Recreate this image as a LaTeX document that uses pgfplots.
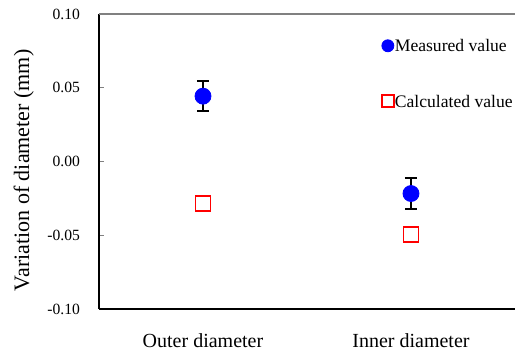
\documentclass[border=0pt]{standalone}
\usepackage{fontspec}
\setmainfont{Liberation Serif}
\usepackage{pgfplots}
\pgfplotsset{compat=1.18}
\definecolor{mblue}{RGB}{0,0,255}
\definecolor{cred}{RGB}{255,0,0}
\begin{document}
\begin{tikzpicture}
\path[use as bounding box] (-49.5pt,-22.5pt) rectangle (208pt,154.5pt);
\begin{axis}[
  at={(0,0)}, anchor=south west,
  scale only axis, width=208pt, height=147.5pt,
  xmin=0, xmax=2, ymin=-0.1, ymax=0.1,
  axis lines=left,
  x axis line style={-, line width=1pt, black},
  y axis line style={-, line width=1pt, black},
  tick align=inside,
  major tick length=2.5pt,
  tick style={gray, line width=0.6pt},
  ytick={-0.1,-0.05,0,0.05,0.1},
  yticklabels={-0.10,-0.05,0.00,0.05,0.10},
  yticklabel style={font=\fontsize{7.8}{9}\selectfont, xshift=-6pt},
  xtick={0.5,1.5},
  xticklabels={Outer diameter, Inner diameter},
  major x tick style={draw=none},
  xticklabel style={font=\fontsize{10}{12}\selectfont, yshift=-9pt},
  extra x ticks={1},
  extra x tick labels={},
  extra x tick style={major tick length=2.5pt, tick style={gray, line width=0.6pt}},
  ylabel={Variation of diameter (mm)},
  ylabel style={font=\fontsize{11}{13}\selectfont, at={(ticklabel cs:0.47)}},
  clip=false,
  legend style={at={(0.679,0.918)}, anchor=north west, draw=none, fill=none,
    font=\fontsize{8.8}{10}\selectfont, row sep=19pt, inner sep=0pt,
    nodes={inner sep=0.5pt}},
  legend cell align=left,
  legend image code/.code={\draw[#1, mark size=3pt] plot coordinates {(0.1cm,0.025cm)};},
]
\addplot[only marks, mark=*, mark size=4pt, mark options={draw=mblue, fill=mblue},
  error bars/.cd, y dir=both, y explicit,
  error bar style={black, line width=0.8pt},
  error mark options={rotate=90, mark size=3pt, line width=0.8pt, black}]
  coordinates {(0.5,0.0443) +- (0,0.0101) (1.5,-0.0217) +- (0,0.0106)};
\addlegendentry{Measured value}
\addplot[only marks, mark=square, mark size=3.75pt, mark options={draw=cred, line width=0.65pt}]
  coordinates {(0.5,-0.0285) (1.5,-0.0495)};
\addlegendentry{Calculated value}
\draw[gray, line width=0.75pt] (rel axis cs:0,1) -- (rel axis cs:1,1);
\end{axis}
\end{tikzpicture}
\end{document}
